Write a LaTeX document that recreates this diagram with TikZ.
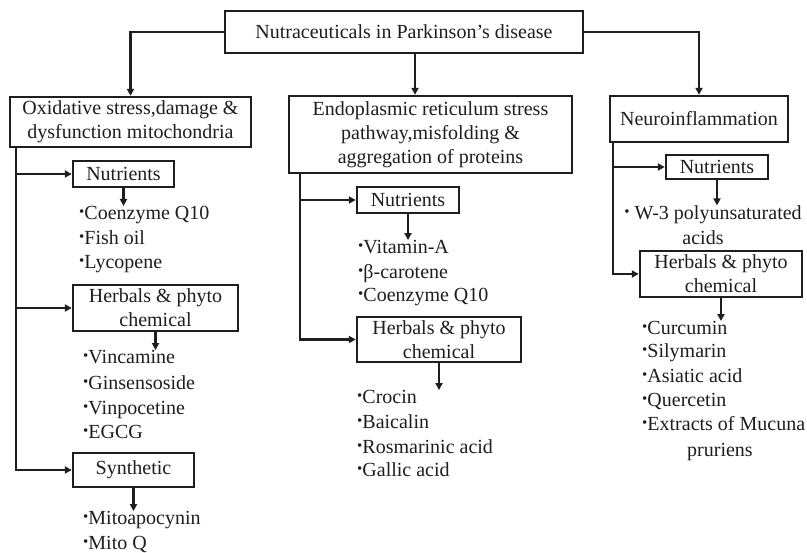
\documentclass[tikz,border=0pt]{standalone}
\usepackage{fontspec}
\usepackage{graphicx}
\setmainfont{Liberation Serif}
\usetikzlibrary{arrows.meta}
\newcommand\fs{\fontsize{20}{24}\selectfont}
\newcommand\bu{\raisebox{0.17em}{\scalebox{0.75}{•}}}
\definecolor{ink}{HTML}{1E1E1E}
\begin{document}
\begin{tikzpicture}[x=1pt,y=-1pt,
  box/.style={draw=ink,line width=2.4pt,inner sep=0pt,align=center,font=\fs,text=ink},
  item/.style={anchor=base west,inner sep=0pt,font=\fs,text=ink},
  itemc/.style={anchor=base,inner sep=0pt,font=\fs,text=ink},
  conn/.style={draw=ink,line width=2.2pt,-{Triangle[length=7pt,width=7pt]}}]
\useasboundingbox[fill=white] (0,0) rectangle (807,553);

% main boxes
\node[box,minimum width=358,minimum height=42] (top) at (404,32) {Nutraceuticals in Parkinson’s disease};
\node[box,minimum width=241,minimum height=50] (L) at (130.5,122) {Oxidative stress,damage \&\\dysfunction mitochondria};
\node[box,minimum width=283,minimum height=77] (M) at (430.5,134.5) {Endoplasmic reticulum stress\\pathway,misfolding \&\\aggregation of proteins};
\node[box,minimum width=178,minimum height=46] (R) at (699,119) {Neuroinflammation};

\draw[conn] (top.west) -| (L.north);
\draw[conn] (top.east) -| (R.north);
\draw[conn] ([xshift=11]top.south) -- ([xshift=11]top.south |- M.north);

% left panel
\node[box,minimum width=101,minimum height=26] (LN) at (123.5,174) {Nutrients};
\node[box,minimum width=165,minimum height=46] (LH) at (155.5,308) {Herbals \& phyto\\chemical};
\node[box,minimum width=121,minimum height=34] (LS) at (133.5,470) {Synthetic};
\draw[conn] ([xshift=7]L.south west) |- (LN.west);
\draw[conn] ([xshift=7]L.south west) |- (LH.west);
\draw[conn] ([xshift=7]L.south west) |- (LS.west);

\node[item] (LN1) at (79,219.5) {\bu Coenzyme Q10};
\node[item] (LN2) at (79,244.5) {\bu Fish oil};
\node[item] (LN3) at (79,268.5) {\bu Lycopene};
\draw[conn] (LN.south) -- (LN.south |- LN1.north);

\node[item] (LH1) at (83,363.5) {\bu Vincamine};
\node[item] (LH2) at (83,389.5) {\bu Ginsensoside};
\node[item] (LH3) at (83,414.5) {\bu Vinpocetine};
\node[item] (LH4) at (83,438.5) {\bu EGCG};
\draw[conn] (LH.south) -- (LH.south |- LH1.north);

\node[item] (LS1) at (83,524.5) {\bu Mitoapocynin};
\node[item] (LS2) at (83,549.5) {\bu Mito Q};
\draw[conn] (LS.south) -- (LS.south |- LS1.north);

% middle panel
\node[box,minimum width=102,minimum height=26] (MN) at (408,200) {Nutrients};
\node[box,minimum width=164,minimum height=45] (MH) at (439,339.5) {Herbals \& phyto\\chemical};
\draw[conn] ([xshift=12]M.south west) |- (MN.west);
\draw[conn] ([xshift=12]M.south west) |- (MH.west);

\node[item] (MN1) at (358,253.5) {\bu Vitamin-A};
\node[item] (MN2) at (358,278.5) {\bu β-carotene};
\node[item] (MN3) at (358,301.5) {\bu Coenzyme Q10};
\draw[conn] (MN.south) -- (MN.south |- MN1.north);

\node[item] (MH1) at (357,403.5) {\bu Crocin};
\node[item] (MH2) at (357,428.5) {\bu Baicalin};
\node[item] (MH3) at (357,453.5) {\bu Rosmarinic acid};
\node[item] (MH4) at (357,476.5) {\bu Gallic acid};
\draw[conn] (MH.south) -- (MH.south |- MH1.north);

% right panel
\node[box,minimum width=102,minimum height=24] (RN) at (717,167) {Nutrients};
\node[box,minimum width=162,minimum height=46] (RH) at (721,274) {Herbals \& phyto\\chemical};
\draw[conn] ([xshift=4]R.south west) |- (RN.west);
\draw[conn] ([xshift=4]R.south west) |- (RH.west);

\node[itemc] (RN1) at (713,219.5) {\bu\ W-3 polyunsaturated};
\node[itemc] (RN2) at (703,244.5) {acids};
\draw[conn] (RN.south) -- (RN.south |- RN1.north);

\node[item] (RH1) at (642,334.5) {\bu Curcumin};
\node[item] (RH2) at (642,357.5) {\bu Silymarin};
\node[item] (RH3) at (642,382.5) {\bu Asiatic acid};
\node[item] (RH4) at (642,406.5) {\bu Quercetin};
\node[item] (RH5) at (642,430.5) {\bu Extracts of Mucuna};
\node[itemc] (RH6) at (720,456.5) {pruriens};
\draw[conn] (RH.south) -- (RH.south |- RH1.north);
\end{tikzpicture}
\end{document}
